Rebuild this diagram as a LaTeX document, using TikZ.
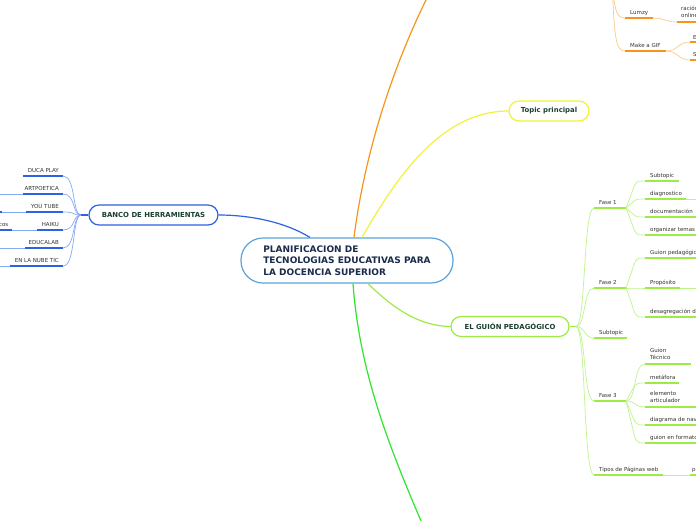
\documentclass[tikz,border=0pt]{standalone}
\usepackage{fontspec}
\setmainfont{DejaVu Sans}
\definecolor{cblue}{HTML}{2F62E0}
\definecolor{cbluel}{HTML}{86AAF2}
\definecolor{corange}{HTML}{F7941E}
\definecolor{corangel}{HTML}{FBCB8A}
\definecolor{cyellow}{HTML}{F2F23A}
\definecolor{clgreen}{HTML}{9DEB45}
\definecolor{clgreenl}{HTML}{BFF38C}
\definecolor{cgreen}{HTML}{2EE62E}
\definecolor{ccentral}{HTML}{5BA3DD}
\definecolor{tcentral}{HTML}{1B2B4D}
\definecolor{tbranch}{HTML}{1C3F2E}
\definecolor{tlabel}{HTML}{333333}
\begin{document}
\begin{tikzpicture}[x=1pt,y=-1pt,
  central/.style={draw=ccentral, line width=1.2pt, rounded corners=22pt, fill=white,
    minimum width=212pt, minimum height=45pt, align=left,
    font=\bfseries\fontsize{9}{11.5}\selectfont, text=tcentral, inner sep=0pt},
  branch/.style={draw=#1, line width=1.2pt, rounded corners=10pt, fill=white,
    minimum height=20pt, inner sep=0pt, font=\bfseries\fontsize{6.9}{8}\selectfont, text=tbranch},
  lbl/.style={font=\fontsize{5.5}{7}\selectfont, text=tlabel, inner sep=0pt},
  uline/.style={line width=1.6pt, draw=#1},
  conn/.style={line width=0.7pt, draw=#1},
  mainline/.style={line width=1.2pt, draw=#1}]
\clip (0,0) rectangle (696,520);
\fill[white] (0,0) rectangle (696,520);

% ---------- main nodes ----------
\node[central] (c) at (347,260.5) {PLANIFICACION DE\\TECNOLOGIAS EDUCATIVAS PARA\\LA DOCENCIA SUPERIOR};
\node[branch=cblue, minimum width=129pt] (b) at (153.5,215) {BANCO DE HERRAMIENTAS};
\node[branch=cyellow, minimum width=80pt] (tpn) at (549,111) {Topic principal};
\node[branch=clgreen, minimum width=118pt] (g) at (510,326.5) {EL GUIÓN PEDAGÓGICO};

% ---------- main branches ----------
\coordinate (otop) at (432,-12);
\coordinate (gbot) at (427,535);
\draw[mainline=corange] ([xshift=7pt]c.north) .. controls (365,150) and (395,60) .. (otop);
\draw[mainline=cyellow] ([xshift=15pt]c.north) .. controls (395,180) and (440,111) .. (tpn.west);
\draw[mainline=cblue] ([xshift=-37pt]c.north) .. controls (285,222) and (250,215) .. (b.east);
\draw[mainline=clgreen] ([xshift=21pt]c.south) .. controls (395,310) and (420,326) .. (g.west);
\draw[mainline=cgreen] ([xshift=6pt]c.south) .. controls (360,380) and (395,460) .. (gbot);

% ---------- BANCO DE HERRAMIENTAS children ----------
\coordinate (bs) at (81,215);
\draw[uline=cblue] (b.west) -- (bs);
\foreach \n/\t/\y/\l in {dp/DUCA PLAY/176/23, ap/ARTPOETICA/194/23, yt/YOU TUBE/212/26,
    hk/HAIKU/230/37, el/EDUCALAB/248/25, nt/EN LA NUBE TIC/266/10}{
  \node[lbl, anchor=base east] (\n) at (59,\y-4) {\t};
  \coordinate (\n L) at (\l,\y);
  \coordinate (\n R) at (63,\y);
  \draw[uline=cblue] (\n L) -- (\n R);
  \draw[conn=cbluel] (bs) .. controls (72,215) and (76,\y) .. (\n R);
}
\coordinate (apX) at (-5,194);
\coordinate (ytX) at (-5,212);
\coordinate (ytC) at (2,212);
\coordinate (elX) at (-5,248);
\coordinate (ntX) at (-5,266);
\coordinate (hkC) at (12,230);
\coordinate (hkX) at (-5,230);
\draw[conn=cbluel] (apL) -- (apX);
\draw[conn=cbluel] (ytL) -- (ytC);
\draw[uline=cblue] (ytC) -- (ytX);
\draw[conn=cbluel] (elL) -- (elX);
\draw[conn=cbluel] (ntL) -- (ntX);
\draw[conn=cbluel] (hkL) -- (hkC);
\draw[uline=cblue] (hkC) -- (hkX);
\node[lbl, anchor=base east] (hkc) at (8.5,226) {cos};

% ---------- orange (top right) ----------
\coordinate (opar) at (612,-25);
\node[lbl, anchor=base west] (lz) at (630,14) {Lumzy};
\coordinate (lzL) at (625,18); \coordinate (lzR) at (653,18);
\draw[uline=corange] (lzL) -- (lzR);
\draw[conn=corangel] (opar) .. controls (614,10) and (616,18) .. (lzL);
\node[lbl, anchor=south west, align=left] (rc) at (681,18) {ración\\online};
\coordinate (rcL) at (677,22); \coordinate (rcR) at (700,22);
\draw[uline=corange] (rcL) -- (rcR);
\draw[conn=corangel] (lzR) .. controls (665,18) and (665,22) .. (rcL);
\node[lbl, anchor=base west] (mg) at (630,47) {Make a GIF};
\coordinate (mgL) at (625,51); \coordinate (mgR) at (666,51);
\draw[uline=corange] (mgL) -- (mgR);
\draw[conn=corangel] (opar) .. controls (614,40) and (616,51) .. (mgL);
\node[lbl, anchor=base west] (e1) at (693,39) {E};
\coordinate (e1L) at (690,42); \coordinate (e1R) at (700,42);
\draw[uline=corange] (e1L) -- (e1R);
\draw[conn=corangel] (mgR) .. controls (678,51) and (678,42) .. (e1L);
\node[lbl, anchor=base west] (s2) at (693,56.5) {S};
\coordinate (s2L) at (690,60); \coordinate (s2R) at (700,60);
\draw[uline=corange] (s2L) -- (s2R);
\draw[conn=corangel] (mgR) .. controls (678,51) and (678,60) .. (s2L);

% ---------- EL GUION PEDAGOGICO children ----------
\coordinate (gs) at (576,326.5);
\draw[uline=clgreen] (g.east) -- (gs);
\foreach \n/\t/\y/\r in {f1/Fase 1/208/626, f2/Fase 2/288/626, st/Subtopic/338/627,
    f3/Fase 3/401/626, tp/Tipos de Páginas web/475/663}{
  \node[lbl, anchor=base west] (\n) at (599,\y-4) {\t};
  \coordinate (\n L) at (594,\y);
  \coordinate (\n R) at (\r,\y);
  \draw[uline=clgreen] (\n L) -- (\n R);
  \draw[conn=clgreenl] (gs) .. controls (586,326.5) and (583,\y) .. (\n L);
}
\node[lbl, anchor=base west] (tpc) at (692,471) {p};
\coordinate (tpcL) at (690,475); \coordinate (tpcR) at (700,475);
\draw[uline=clgreen] (tpcL) -- (tpcR);
\draw[conn=clgreenl] (tpR) -- (tpcL);

% Fase 1, 2, 3 children
\foreach \n/\t/\y/\r/\p in {sa/Subtopic/181/679/f1, dg/diagnostico/199/686/f1,
    dc/documentación/217/700/f1, ot/organizar temas/235/700/f1,
    gp/Guion pedagógico/258/700/f2, pr/Propósito/288/680/f2,
    dd/desagregación de contenidos/317/700/f2,
    mt/metáfora/383/679/f3, dn/diagrama de navegación/425/700/f3,
    gf/guion en formato web/443/700/f3}{
  \node[lbl, anchor=base west] (\n) at (650,\y-4) {\t};
  \coordinate (\n L) at (645,\y);
  \coordinate (\n R) at (\r,\y);
  \draw[uline=clgreen] (\n L) -- (\n R);
  \draw[conn=clgreenl] (\p R) .. controls (637,\y) and (633,\y) .. (\n L);
}
% two-line labels of Fase 3
\node[lbl, anchor=south west, align=left] (gt) at (650,360) {Guion\\Técnico};
\coordinate (gtL) at (645,364); \coordinate (gtR) at (691,364);
\draw[uline=clgreen] (gtL) -- (gtR);
\draw[conn=clgreenl] (f3R) .. controls (637,401) and (633,364) .. (gtL);
\node[lbl, anchor=south west, align=left] (ea) at (650,403) {elemento\\articulador};
\coordinate (eaL) at (645,407); \coordinate (eaR) at (700,407);
\draw[uline=clgreen] (eaL) -- (eaR);
\draw[conn=clgreenl] (f3R) .. controls (637,401) and (633,407) .. (eaL);
% continuations to children beyond the edge
\coordinate (dgX) at (700,199);
\coordinate (prX) at (700,288);
\draw[conn=clgreenl] (dgR) -- (dgX);
\draw[conn=clgreenl] (prR) -- (prX);
\end{tikzpicture}
\end{document}
